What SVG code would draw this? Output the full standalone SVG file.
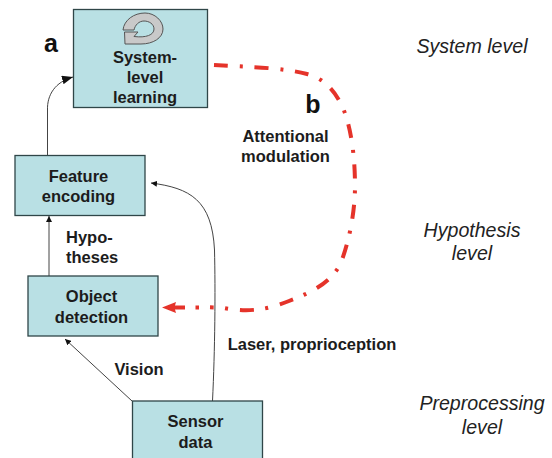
<svg xmlns="http://www.w3.org/2000/svg" width="552" height="458" viewBox="0 0 552 458">
<style>
.box{fill:#b9e0e4;stroke:#2f4648;stroke-width:1.3}
text{font-family:"Liberation Sans",Arial,sans-serif;fill:#1c1c1c;text-anchor:middle}
.n{font-size:16.5px;font-weight:bold}
.big{font-size:25px;font-weight:bold;fill:#111}
.lvl{font-size:19.6px;font-style:italic;fill:#222}
.c{fill:none;stroke:#444;stroke-width:1}
.r{fill:none;stroke:#e5332a;stroke-width:4;stroke-dasharray:14 12 3 11.500}
</style>
<defs>
<marker id="a" markerUnits="userSpaceOnUse" markerWidth="11" markerHeight="9" refX="10" refY="4" orient="auto" viewBox="0 0 10 8"><path d="M0 0L10 4L0 8Z" fill="#111"/></marker>
<marker id="s" markerUnits="userSpaceOnUse" markerWidth="6" markerHeight="6" refX="6" refY="3" orient="auto" viewBox="0 0 6 6"><path d="M0 0L6 3L0 6Z" fill="#111"/></marker>
</defs>
<rect width="552" height="458" fill="#fff"/>
<g id="connectors">
<path class="c" d="M47.500 155V110C47 95 55 82 73 77" marker-end="url(#a)"/>
<path class="c" d="M49 276V216" marker-end="url(#s)"/>
<path class="c" d="M132 401L65 339" marker-end="url(#s)"/>
<path class="c" d="M212.500 401C215 350 215.500 290 214.500 250C212 200 190 188 151 183" marker-end="url(#s)"/>
<path class="r" d="M214 65C245 67 280 67 307 74C322 78 334 88 343 108C352 130 355 160 355 186C355 215 348 245 340 265C330 282 315 291 289 301C265 311 245 312 224 308C219 307.500 215 307.500 210 307.300"/>
<path d="M162 307.500L176 302L175 305.500H185V309.500H175L176 313ZM195.500 305.500H199V309.500H195.500Z" fill="#e5332a"/>
</g>
<g id="system">
<rect class="box" x="73.500" y="9.500" width="134" height="98"/>
<path d="M123 30C124 20 134 13 145 13C155 13 163 21 163 29C163 38 153 44 141 44H125L124.500 32L138 32L134 36.500C146 38 154 35 154 29C154 24 149 21 144 21C139 21 135 25 134 30Z" fill="#c9c9c9" stroke="#555" stroke-width="1"/>
<text class="n" x="145" y="63">System-</text><text class="n" x="145" y="83">level</text><text class="n" x="145" y="103">learning</text>
</g>
<g id="feature">
<rect class="box" x="15" y="155.500" width="130" height="60"/>
<text class="n" x="78.500" y="182">Feature</text><text class="n" x="78.500" y="202">encoding</text>
</g>
<g id="object">
<rect class="box" x="28" y="276" width="130" height="60"/>
<text class="n" x="91.500" y="302">Object</text><text class="n" x="91.500" y="323">detection</text>
</g>
<g id="sensor">
<rect class="box" x="132.500" y="401" width="130" height="70"/>
<text class="n" x="195.500" y="427">Sensor</text><text class="n" x="195.500" y="448">data</text>
</g>
<g id="labels">
<text class="big" x="51" y="52">a</text>
<text class="big" x="313" y="113">b</text>
<text class="n" x="285.500" y="142">Attentional</text><text class="n" x="285.500" y="162">modulation</text>
<text class="n" x="66" y="243" style="text-anchor:start">Hypo-</text><text class="n" x="66" y="263" style="text-anchor:start">theses</text>
<text class="n" x="139" y="375">Vision</text>
<text class="n" x="312" y="350">Laser, proprioception</text>
<text class="lvl" x="472" y="53">System level</text>
<text class="lvl" x="472" y="237">Hypothesis</text><text class="lvl" x="472" y="260">level</text>
<text class="lvl" x="482" y="410">Preprocessing</text><text class="lvl" x="482" y="434">level</text>
</g>
</svg>
